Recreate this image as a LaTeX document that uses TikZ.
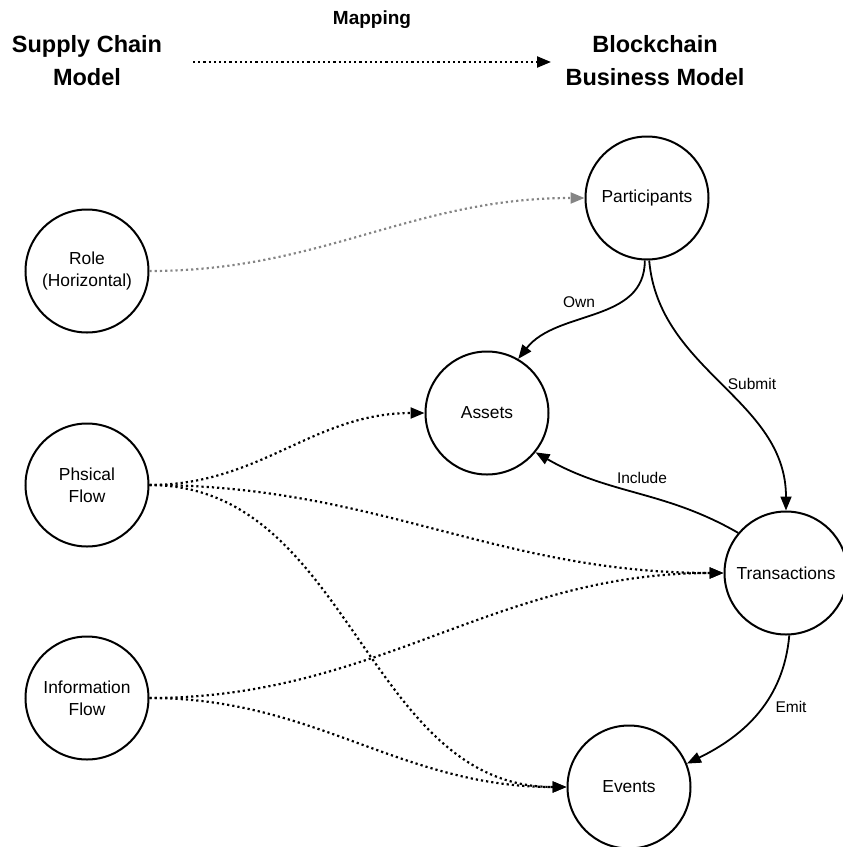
\documentclass[tikz,border=0pt]{standalone}
\usepackage{fontspec}
\setmainfont{Liberation Sans}
\usetikzlibrary{arrows.meta}
\definecolor{rolegray}{gray}{0.52}

\begin{document}
\begin{tikzpicture}[x=1pt,y=1pt,
  concept/.style={circle, draw, line width=2pt, minimum size=123pt, inner sep=0pt,
    align=center, font=\fontsize{17.4}{22}\selectfont},
  heading/.style={align=center, font=\bfseries\fontsize{23.5}{33}\selectfont},
  rel/.style={line width=1.8pt, -{Triangle[length=14pt,width=11pt]}},
  mapto/.style={line width=2.2pt, dash pattern=on 2.2pt off 3pt,
    -{Triangle[length=14pt,width=11pt]}},
  lbl/.style={font=\fontsize{15.5}{18}\selectfont}
]
\useasboundingbox (0,0) rectangle (843,-847);

% headings
\node[heading] (scm) at (87,-61) {Supply Chain\\Model};
\node[heading] (bbm) at (655,-61) {Blockchain\\Business Model};
\node[font=\bfseries\fontsize{19}{22}\selectfont] (maplbl) at (372,-20) {Mapping};
\coordinate (mapstart) at (193,-62);
\coordinate (mapend) at (551,-62);
\draw[mapto] (mapstart) -- (mapend);

% supply chain side
\node[concept] (role) at (87,-271) {Role\\(Horizontal)};
\node[concept] (phys) at (87,-485) {Phsical\\Flow};
\node[concept] (info) at (87,-698) {Information\\Flow};

% blockchain side
\node[concept] (part) at (647,-198) {Participants};
\node[concept] (assets) at (487,-413) {Assets};
\node[concept] (trans) at (786,-573) {Transactions};
\node[concept] (events) at (629,-787) {Events};

% relations inside the business model
\draw[rel] (part.268) to[out=270,in=52] (assets.60);
\draw[rel] (part.272) to[out=275,in=90] (trans.north);
\draw[rel] (trans.140) to[out=150,in=330] (assets.-39);
\draw[rel] (trans.273) to[out=265,in=26] (events.22);

\node[lbl] (ownlbl) at (579,-302) {Own};
\node[lbl] (sublbl) at (752,-384) {Submit};
\node[lbl] (inclbl) at (642,-478) {Include};
\node[lbl] (emitlbl) at (791,-707) {Emit};

% mappings between the two models
\draw[mapto, color=rolegray] (role.east) to[out=0,in=180] (part.west);
\draw[mapto] (phys.east) to[out=0,in=180] (assets.west);
\draw[mapto] (phys.east) to[out=0,in=180] (trans.west);
\draw[mapto] (phys.east) to[out=0,in=180] (events.west);
\draw[mapto] (info.east) to[out=0,in=180] (trans.west);
\draw[mapto] (info.east) to[out=0,in=180] (events.west);
\end{tikzpicture}
\end{document}
